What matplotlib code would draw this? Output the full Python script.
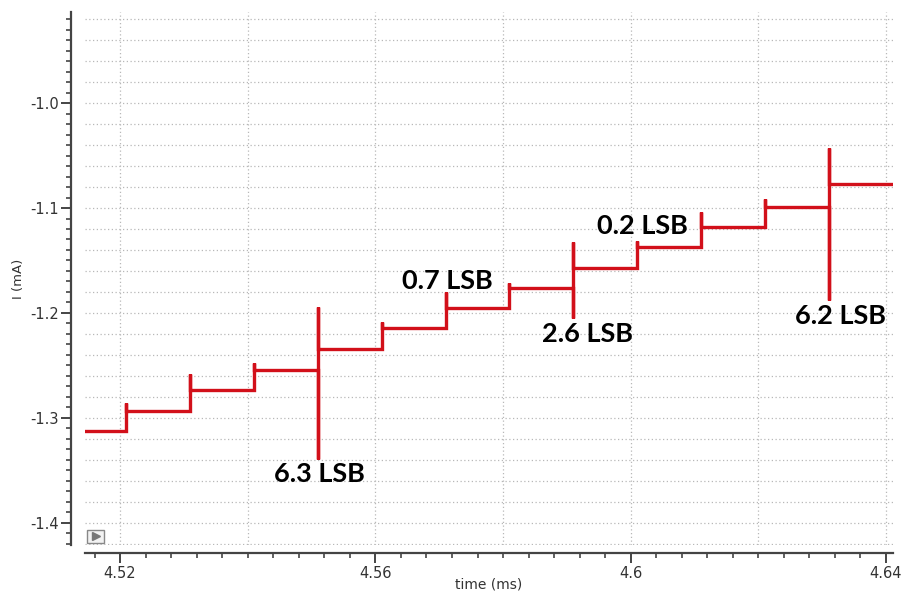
import numpy as np
import matplotlib
matplotlib.use("Agg")
import matplotlib.pyplot as plt
from matplotlib.ticker import MultipleLocator, FuncFormatter
from matplotlib.patches import Rectangle

# DAC output current staircase (time in ms, current in mA)
trace_start = 4.5145
trace_end = 4.641
transition_times = [4.521, 4.531, 4.541, 4.551, 4.561, 4.571,
                    4.581, 4.591, 4.601, 4.611, 4.621, 4.631]
step_levels = [-1.312, -1.293, -1.273, -1.254, -1.234, -1.214, -1.195,
               -1.176, -1.157, -1.137, -1.118, -1.099, -1.077]
glitch_peak = [-1.286, -1.258, -1.248, -1.194, -1.209, -1.180,
               -1.171, -1.132, -1.131, -1.104, -1.091, -1.043]
glitch_dip = [None, None, None, -1.339, None, None,
              None, -1.205, None, None, None, -1.188]

# glitch energy annotations
glitch_lsb = [6.3, 0.7, 2.6, 0.2, 6.2]
label_t = [4.5512, 4.5712, 4.5933, 4.6019, 4.6328]
label_i = [-1.3533, -1.1695, -1.2200, -1.1171, -1.2029]

# build the waveform polyline
xs = [trace_start]
ys = [step_levels[0]]
for k, t in enumerate(transition_times):
    xs.append(t); ys.append(step_levels[k])
    if glitch_dip[k] is not None:
        xs.append(t); ys.append(glitch_dip[k])
    xs.append(t); ys.append(glitch_peak[k])
    xs.append(t); ys.append(step_levels[k + 1])
xs.append(trace_end); ys.append(step_levels[-1])

fig = plt.figure(figsize=(9.03, 5.95), dpi=100)
ax = fig.add_axes([85 / 903, 50 / 595, 808 / 903, 533 / 595])

xlo, xhi = 4.5145, 4.6411
ylo, yhi = -1.421, -0.9133
ax.set_xlim(xlo, xhi)
ax.set_ylim(ylo, yhi)

# dotted grid every 0.02 on both axes
grid_kw = dict(color="#b8b8b8", linestyle=(0, (1, 2)), linewidth=0.9, zorder=0)
for gy in np.arange(-1.42, -0.90, 0.02):
    if ylo < gy < yhi:
        ax.axhline(gy, **grid_kw)
for gx in np.arange(4.52, 4.65, 0.02):
    if xlo < gx < xhi:
        ax.axvline(gx, **grid_kw)

ax.plot(xs, ys, color="#d2101a", linewidth=2.4, solid_joinstyle="miter",
        zorder=3)

for v, tx, ty in zip(glitch_lsb, label_t, label_i):
    ax.text(tx, ty, f"{v} LSB", ha="center", va="center",
            fontsize=19.5, fontweight="bold", family=["Lato", "DejaVu Sans"],
            color="black", zorder=4)

# spines and ticks
for s in ("top", "right"):
    ax.spines[s].set_visible(False)
ax.spines["left"].set_position(("outward", 10))
ax.spines["bottom"].set_position(("outward", 6))
for s in ("left", "bottom"):
    ax.spines[s].set_color("#444444")
    ax.spines[s].set_linewidth(1.6)

ax.xaxis.set_major_locator(MultipleLocator(0.04))
ax.xaxis.set_minor_locator(MultipleLocator(0.004))
ax.yaxis.set_major_locator(MultipleLocator(0.1))
ax.yaxis.set_minor_locator(MultipleLocator(0.01))
ax.xaxis.set_major_formatter(FuncFormatter(lambda v, p: f"{v:.2f}".rstrip("0")))
ax.yaxis.set_major_formatter(FuncFormatter(lambda v, p: f"{v:.1f}"))
ax.tick_params(axis="both", which="major", direction="out", length=7,
               width=1.4, color="#444444", labelsize=10.5,
               labelcolor="#333333", pad=2)
ax.tick_params(axis="both", which="minor", direction="out", length=3.5,
               width=1.2, color="#444444")

ax.set_xlabel("time (ms)", fontsize=10, color="#333333", va="center")
ax.xaxis.set_label_coords(0.5, -0.075)
ax.set_ylabel("I (mA)", fontsize=9.5, color="#333333", va="center")
ax.yaxis.set_label_coords(-0.082, 0.5)

# small play-button box in the lower-left corner
ax.add_patch(Rectangle((0.002, 0.004), 0.022, 0.024, transform=ax.transAxes,
                       facecolor="#f2f2f2", edgecolor="#888888", lw=1.0,
                       zorder=5, clip_on=False))
ax.plot([0.013], [0.016], marker=">", markersize=6, color="#777777",
        transform=ax.transAxes, zorder=6, clip_on=False)

fig.savefig("out.png", dpi=100, facecolor="white")
